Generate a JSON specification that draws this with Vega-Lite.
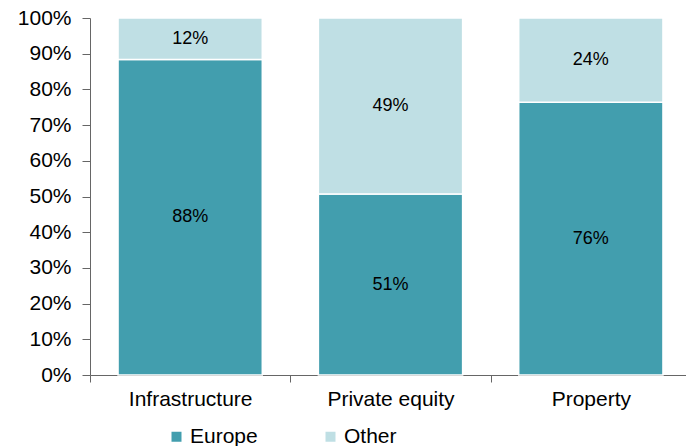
{
  "$schema": "https://vega.github.io/schema/vega-lite/v6.json",
  "width": 601,
  "height": 357,
  "autosize": {"type": "none"},
  "padding": {"left": 90, "top": 18, "right": -5, "bottom": 71},
  "background": "white",
  "config": {
    "view": {"stroke": null},
    "font": "Liberation Sans",
    "axis": {"labelFont": "Liberation Sans", "labelColor": "#000000", "labelFontSize": 21, "domainColor": "#666666", "tickColor": "#666666", "grid": false, "title": null},
    "legend": {"labelFont": "Liberation Sans", "labelFontSize": 21, "labelColor": "#000000"}
  },
  "data": {
    "values": [
      {"category": "Infrastructure", "region": "Europe", "value": 88.4, "label": "88%", "rank": 1},
      {"category": "Infrastructure", "region": "Other", "value": 11.6, "label": "12%", "rank": 2},
      {"category": "Private equity", "region": "Europe", "value": 50.7, "label": "51%", "rank": 1},
      {"category": "Private equity", "region": "Other", "value": 49.3, "label": "49%", "rank": 2},
      {"category": "Property", "region": "Europe", "value": 76.4, "label": "76%", "rank": 1},
      {"category": "Property", "region": "Other", "value": 23.6, "label": "24%", "rank": 2}
    ]
  },
  "encoding": {
    "x": {
      "field": "category", "type": "nominal", "sort": null,
      "scale": {"paddingInner": 0, "paddingOuter": 0},
      "axis": {"labelAngle": 0, "tickBand": "extent", "tickSize": 7, "labelPadding": 6}
    },
    "y": {
      "field": "value", "type": "quantitative", "stack": "zero",
      "scale": {"domain": [0, 100], "nice": false},
      "axis": {"values": [0,10,20,30,40,50,60,70,80,90,100], "labelExpr": "datum.value + '%'", "tickSize": 8, "labelPadding": 11}
    },
    "order": {"field": "rank", "type": "quantitative"}
  },
  "layer": [
    {
      "mark": {"type": "bar", "stroke": "white", "strokeWidth": 1.5, "width": {"band": 0.72}},
      "encoding": {
        "color": {
          "field": "region", "type": "nominal",
          "scale": {"domain": ["Europe", "Other"], "range": ["#429eae", "#bfdfe4"]},
          "legend": {"title": null, "orient": "none", "direction": "horizontal", "legendX": 76, "legendY": 408, "symbolType": "square", "symbolSize": 100, "symbolStrokeWidth": 0, "labelOffset": 3, "columnPadding": 62}
        }
      }
    },
    {
      "mark": {"type": "text", "fontSize": 18, "color": "#000000", "font": "Liberation Sans"},
      "encoding": {
        "y": {"field": "value", "type": "quantitative", "stack": "zero", "bandPosition": 0.5},
        "text": {"field": "label"}
      }
    }
  ]
}
